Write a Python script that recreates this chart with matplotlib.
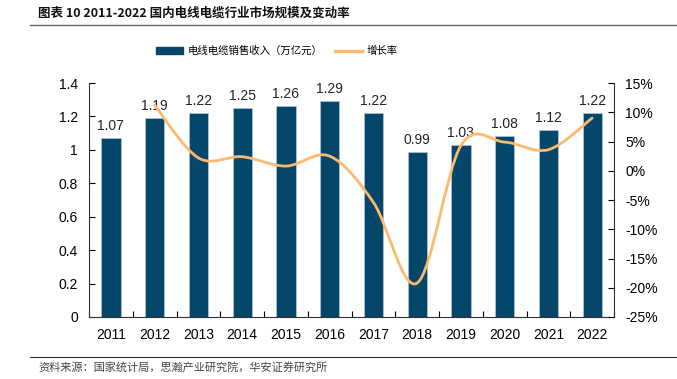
import matplotlib
matplotlib.use("Agg")
import matplotlib.pyplot as plt
from matplotlib.path import Path
from matplotlib.patches import PathPatch
from matplotlib.lines import Line2D
from matplotlib.patches import Patch
import numpy as np

years = ["2011", "2012", "2013", "2014", "2015", "2016", "2017", "2018", "2019", "2020", "2021", "2022"]
revenue = [1.07, 1.19, 1.22, 1.25, 1.26, 1.29, 1.22, 0.99, 1.03, 1.08, 1.12, 1.22]
growth_years_idx = [1, 2, 3, 4, 5, 6, 7, 8, 9, 10, 11]
growth = [11.2, 2.2, 2.4, 0.8, 2.5, -5.4, -19.2, 4.3, 4.9, 3.6, 9.0]

left_ticks = [0, 0.2, 0.4, 0.6, 0.8, 1.0, 1.2, 1.4]
left_labels = ["0", "0.2", "0.4", "0.6", "0.8", "1", "1.2", "1.4"]
right_ticks = [-25, -20, -15, -10, -5, 0, 5, 10, 15]

BAR = "#05476B"
LINE = "#FDBA6E"
CJK = ["Noto Sans CJK SC", "DejaVu Sans"]
NUM = ["Liberation Sans", "DejaVu Sans"]

fig = plt.figure(figsize=(6.77, 3.79), dpi=100)
ax = fig.add_axes([89/677, 1-317/379, (614-89)/677, (317-83)/379])
x = np.arange(len(years))
bars = ax.bar(x, revenue, width=0.44, color=BAR, edgecolor="#A9C2D2", linewidth=0.6, zorder=2)
for xi, v in zip(x, revenue):
    ax.text(xi, v + 0.03, f"{v:.2f}", ha="center", va="bottom", fontsize=10, family=NUM, color="#222222")
ax.set_xlim(-0.5, len(years) - 0.5)
ax.set_ylim(0, 1.4)
ax.set_yticks(left_ticks)
ax.set_yticklabels(left_labels, family=NUM, fontsize=10)
ax.set_xticks(x)
ax.set_xticklabels(years, family=NUM, fontsize=10)
ax.set_xticks(np.arange(-0.5, len(years)), minor=True)
ax.tick_params(axis="x", which="major", length=0, pad=8)
ax.tick_params(axis="x", which="minor", direction="in", length=4, width=0.8)
ax.tick_params(axis="y", direction="in", length=4, width=0.8, pad=8)
ax.spines["top"].set_visible(False)
ax.spines["right"].set_visible(False)
for s in ["left", "bottom"]:
    ax.spines[s].set_linewidth(0.8)
    ax.spines[s].set_color("#333333")

ax2 = ax.twinx()
ax2.set_ylim(-25, 15)
ax2.set_yticks(right_ticks)
ax2.set_yticklabels([f"{t}%" for t in right_ticks], family=NUM, fontsize=10)
ax2.tick_params(axis="y", direction="in", length=4, width=0.8, pad=8)
for s in ["top", "left", "bottom"]:
    ax2.spines[s].set_visible(False)
ax2.spines["right"].set_linewidth(0.8)
ax2.spines["right"].set_color("#333333")

# smoothed line (Excel-style Catmull-Rom Bezier)
px = np.array(growth_years_idx, dtype=float)
py = np.array(growth, dtype=float)
n = len(px)
verts = [(px[0], py[0])]
codes = [Path.MOVETO]
for i in range(n - 1):
    p0 = np.array([px[max(i-1, 0)], py[max(i-1, 0)]])
    p1 = np.array([px[i], py[i]])
    p2 = np.array([px[i+1], py[i+1]])
    p3 = np.array([px[min(i+2, n-1)], py[min(i+2, n-1)]])
    c1 = p1 + (p2 - p0) / 6.0
    c2 = p2 - (p3 - p1) / 6.0
    verts += [tuple(c1), tuple(c2), tuple(p2)]
    codes += [Path.CURVE4] * 3
ax2.add_patch(PathPatch(Path(verts, codes), facecolor="none", edgecolor=LINE, lw=2.0, zorder=3, capstyle="round"))

handles = [Patch(facecolor=BAR, edgecolor=BAR), Line2D([0], [0], color=LINE, lw=2.5)]
leg = fig.legend(handles, ["电线电缆销售收入（万亿元）", "增长率"], loc="center", bbox_to_anchor=(0.409, 1-51/379),
                 ncol=2, frameon=False, prop={"family": CJK, "size": 7.5}, handlelength=2.6, handleheight=0.7,
                 columnspacing=1.2, handletextpad=0.4)

fig.text(38/677, 1-13/379, "图表 10 2011-2022 国内电线电缆行业市场规模及变动率", ha="left", va="center",
         fontsize=9, fontweight="bold", family=CJK, color="#111111")
fig.add_artist(Line2D([30/677, 1.0], [1-25/379, 1-25/379], color="#666666", lw=1.0))
fig.add_artist(Line2D([30/677, 1.0], [1-357/379, 1-357/379], color="#333333", lw=0.8))
fig.text(38/677, 1-367/379, "资料来源：国家统计局，思瀚产业研究院，华安证券研究所", ha="left", va="center",
         fontsize=8, family=CJK, color="#444444")

fig.savefig("out.png", dpi=100)
